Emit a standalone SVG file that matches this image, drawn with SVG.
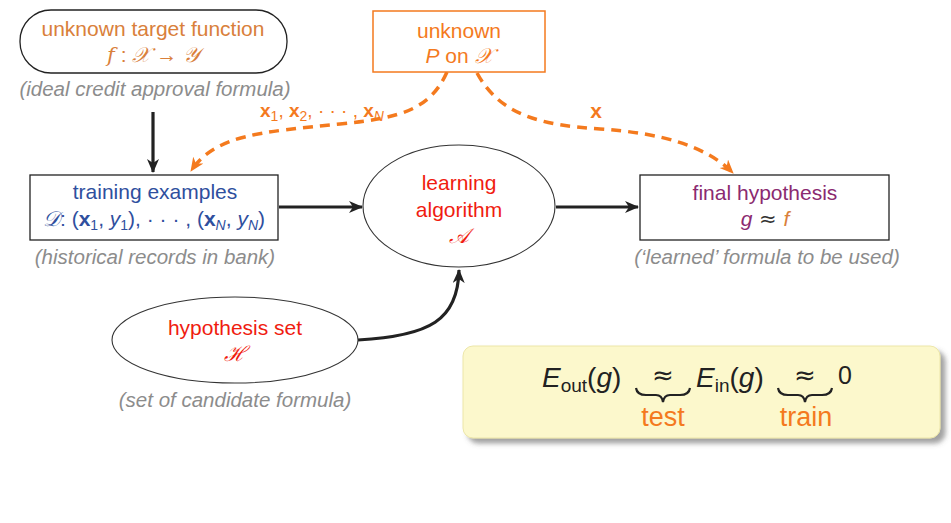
<svg xmlns="http://www.w3.org/2000/svg" width="951" height="523" viewBox="0 0 951 523">
<style>
text{font-family:"Liberation Sans",Arial,sans-serif;font-size:21px;text-anchor:middle}
.cap{fill:#8c8c8c;font-style:italic;font-size:20.5px}
.m{font-family:"DejaVu Serif","Liberation Serif",serif;font-style:italic}
.b{font-weight:bold}
.sub{font-size:14px}
.box{fill:#fff;stroke:#222;stroke-width:1.3}
.ell{fill:#fff;stroke:#333;stroke-width:1.1}
.blk{fill:none;stroke:#222;stroke-width:3.2}
.dsh{fill:none;stroke:#f47a1e;stroke-width:3.5;stroke-dasharray:10 7}
.or{fill:#d9803b}
.og{fill:#f47a1e}
.bl{fill:#2f4f9e}
.rd{fill:#f01c10}
.pu{fill:#8b2a70}
.big{font-size:28px;text-anchor:start;fill:#222}
.bsub{font-size:19px}
.apx{font-family:"DejaVu Sans",sans-serif;font-size:26px;text-anchor:middle;fill:#222}
</style>
<defs>
<marker id="ab" markerUnits="userSpaceOnUse" markerWidth="16" markerHeight="14" refX="13" refY="6" orient="auto">
<path d="M0,0 L14,6 L0,12 L4,6 z" fill="#222"/>
</marker>
<marker id="ao" markerUnits="userSpaceOnUse" markerWidth="16" markerHeight="14" refX="13" refY="6" orient="auto">
<path d="M0,0 L14,6 L0,12 L4,6 z" fill="#f47a1e"/>
</marker>
<filter id="sh" x="-10%" y="-20%" width="125%" height="150%">
<feDropShadow dx="5" dy="5" stdDeviation="2.5" flood-color="#555" flood-opacity="0.55"/>
</filter>
</defs>

<g id="connectors">
<path class="blk" d="M153,112 L153,172" marker-end="url(#ab)"/>
<path class="blk" d="M279,207 L362,207" marker-end="url(#ab)"/>
<path class="blk" d="M556,207 L638,207" marker-end="url(#ab)"/>
<path class="blk" d="M358,340 C 430,336 458,320 459,270" marker-end="url(#ab)"/>
<path class="dsh" d="M447,72 C 430,110 400,118 340,124 C 260,132 215,135 191,171" marker-end="url(#ao)"/>
<path class="dsh" d="M477,73 C 500,115 540,125 600,129 C 660,133 705,145 733,173" marker-end="url(#ao)"/>
<text x="322" y="117" class="og b" style="font-size:19px">x<tspan class="sub" dy="4" font-weight="normal">1</tspan><tspan dy="-4" font-weight="normal">, </tspan>x<tspan class="sub" dy="4" font-weight="normal">2</tspan><tspan dy="-4" font-weight="normal">, · · · , </tspan>x<tspan class="sub" dy="4" font-weight="normal" font-style="italic">N</tspan></text>
<text x="596" y="118" class="og b">x</text>
</g>

<g id="target">
<rect x="20" y="10" width="267" height="63" rx="31" class="box"/>
<text x="153" y="36" class="or">unknown target function</text>
<text x="153" y="62" class="or"><tspan class="m">f</tspan> : <tspan class="m">𝒳</tspan> → <tspan class="m">𝒴</tspan></text>
<text x="155" y="96" class="cap">(ideal credit approval formula)</text>
</g>

<g id="distribution">
<rect x="373" y="11" width="172" height="61" fill="#fff" stroke="#f47a1e" stroke-width="1.5"/>
<text x="459" y="38" class="og">unknown</text>
<text x="459" y="63" class="og"><tspan font-style="italic">P</tspan> on <tspan class="m">𝒳</tspan></text>
</g>

<g id="training">
<rect x="30" y="175" width="248" height="65" class="box"/>
<text x="155" y="199" class="bl">training examples</text>
<text x="154" y="226" class="bl"><tspan class="m">𝒟</tspan>: (<tspan class="b">x</tspan><tspan class="sub" dy="4">1</tspan><tspan dy="-4">, </tspan><tspan font-style="italic">y</tspan><tspan class="sub" dy="4">1</tspan><tspan dy="-4">), · · · , (</tspan><tspan class="b">x</tspan><tspan class="sub" dy="4" font-style="italic">N</tspan><tspan dy="-4">, </tspan><tspan font-style="italic">y</tspan><tspan class="sub" dy="4" font-style="italic">N</tspan><tspan dy="-4">)</tspan></text>
<text x="155" y="264" class="cap">(historical records in bank)</text>
</g>

<g id="algorithm">
<ellipse cx="459" cy="206" rx="96" ry="61" class="ell"/>
<text x="459" y="190" class="rd">learning</text>
<text x="459" y="217" class="rd">algorithm</text>
<text x="459" y="243" class="rd m">𝒜</text>
</g>

<g id="final">
<rect x="640" y="175" width="249" height="65" class="box"/>
<text x="765" y="200" class="pu">final hypothesis</text>
<text x="765" y="226"><tspan font-style="italic" class="pu">g</tspan><tspan fill="#333" font-family="DejaVu Sans"> ≈ </tspan><tspan font-style="italic" class="or">f</tspan></text>
<text x="767" y="264" class="cap">(‘learned’ formula to be used)</text>
</g>

<g id="hypothesis">
<ellipse cx="235" cy="340" rx="123" ry="43" class="ell"/>
<text x="235" y="335" class="rd">hypothesis set</text>
<text x="235" y="361" class="rd m">ℋ</text>
<text x="235" y="407" class="cap">(set of candidate formula)</text>
</g>

<g id="summary">
<rect x="463" y="346" width="477" height="92" rx="10" fill="#fcf8cc" stroke="#ece6a8" stroke-width="1" filter="url(#sh)"/>
<text x="542" y="387" class="big"><tspan font-style="italic">E</tspan><tspan class="bsub" dy="5">out</tspan><tspan dy="-5">(</tspan><tspan font-style="italic">g</tspan>)</text>
<text x="663" y="384" class="apx">≈</text>
<text x="696" y="387" class="big"><tspan font-style="italic">E</tspan><tspan class="bsub" dy="5">in</tspan><tspan dy="-5">(</tspan><tspan font-style="italic">g</tspan>)</text>
<text x="805" y="384" class="apx">≈</text>
<text x="838" y="384" class="big" style="font-size:25px">0</text>
<path d="M636,388 Q637,395 646,395 L656,395 Q662,395 663,402 Q664,395 670,395 L680,395 Q689,395 690,388" fill="none" stroke="#222" stroke-width="2.2"/>
<path d="M778,388 Q779,395 788,395 L798,395 Q804,395 805,402 Q806,395 812,395 L822,395 Q831,395 832,388" fill="none" stroke="#222" stroke-width="2.2"/>
<text x="663" y="426" class="og" style="font-size:27px">test</text>
<text x="806" y="426" class="og" style="font-size:27px">train</text>
</g>
</svg>
